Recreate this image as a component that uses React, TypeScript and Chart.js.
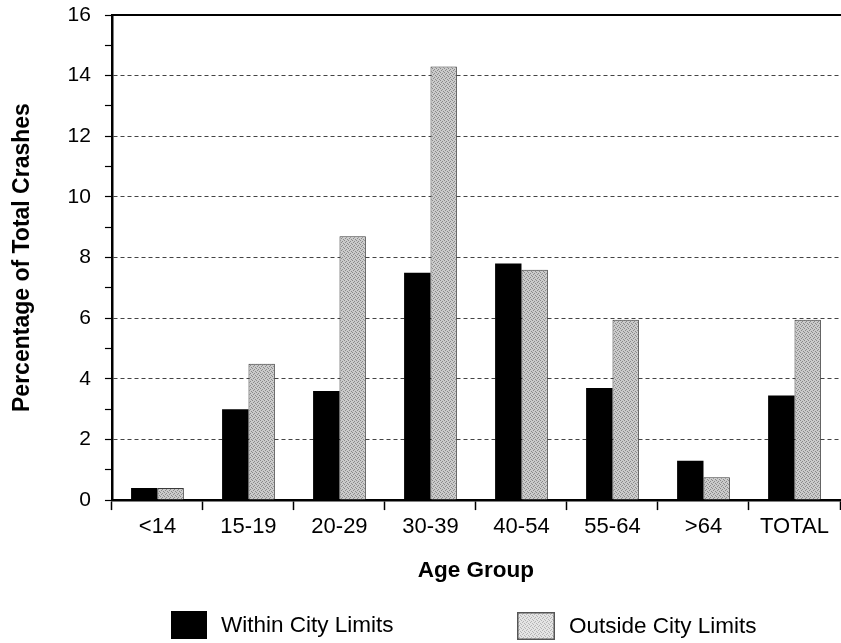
import React, { useEffect, useRef } from "react";
import { Chart, registerables } from "chart.js";

Chart.register(...registerables);

const categories = ["<14", "15-19", "20-29", "30-39", "40-54", "55-64", ">64", "TOTAL"];
const withinCity = [0.4, 3.0, 3.6, 7.5, 7.8, 3.7, 1.3, 3.45];
const outsideCity = [0.4, 4.5, 8.7, 14.3, 7.6, 5.95, 0.75, 5.95];
const seriesNames = ["Within City Limits", "Outside City Limits"];
const yTitle = "Percentage of Total Crashes";
const xTitle = "Age Group";

const FONT = "'Liberation Sans', Arial, Helvetica, sans-serif";

function makePattern(light: boolean): CanvasPattern | string {
  const c = document.createElement("canvas");
  c.width = 4;
  c.height = 4;
  const g = c.getContext("2d");
  if (!g) return "#c0c0c0";
  g.fillStyle = light ? "#e4e4e4" : "#cbcbcb";
  g.fillRect(0, 0, 4, 4);
  g.fillStyle = light ? "#b4b4b4" : "#8a8a8a";
  g.fillRect(0, 0, 1, 1);
  g.fillRect(2, 1, 1, 1);
  g.fillRect(1, 2, 1, 1);
  g.fillRect(3, 3, 1, 1);
  const p = g.createPattern(c, "repeat");
  return p || "#c0c0c0";
}

export default function App() {
  const canvasRef = useRef<HTMLCanvasElement | null>(null);
  const legendBoxRef = useRef<HTMLDivElement | null>(null);

  useEffect(() => {
    if (!canvasRef.current) return;
    const pattern = makePattern(false);
    const chart = new Chart(canvasRef.current, {
      type: "bar",
      data: {
        labels: categories,
        datasets: [
          {
            label: seriesNames[0],
            data: withinCity,
            backgroundColor: "#000000",
            borderColor: "#000000",
            borderWidth: 0,
            categoryPercentage: 0.58,
            barPercentage: 1.0,
          },
          {
            label: seriesNames[1],
            data: outsideCity,
            backgroundColor: pattern as any,
            borderColor: "#3a3a3a",
            borderWidth: 1,
            categoryPercentage: 0.58,
            barPercentage: 1.0,
          },
        ],
      },
      options: {
        responsive: false,
        animation: false,
        layout: { padding: { top: 15, right: 1, left: 0, bottom: 58.5 } },
        plugins: {
          legend: { display: false },
          tooltip: { enabled: false },
        },
        scales: {
          x: {
            type: "category",
            position: "bottom",
            grid: {
              display: true,
              drawOnChartArea: false,
              drawTicks: true,
              offset: true,
              tickLength: 10,
              tickColor: "#000",
              tickWidth: 1.5,
              color: "#000",
            },
            border: { display: true, color: "#000", width: 2.5 },
            ticks: {
              color: "#000",
              padding: 4,
              font: { family: FONT, size: 22 },
              maxRotation: 0,
              autoSkip: false,
            },
            title: {
              display: true,
              text: xTitle,
              color: "#000",
              font: { family: FONT, size: 22.5, weight: "bold" },
              padding: { top: 13, bottom: 0 },
            },
          },
          x2: {
            type: "category",
            position: "top",
            labels: categories,
            grid: { display: false, drawTicks: false },
            ticks: { display: false },
            border: { display: true, color: "#000", width: 2 },
          },
          y: {
            type: "linear",
            min: 0,
            max: 16,
            afterFit: (scale: any) => {
              scale.paddingTop = 0;
              scale.paddingBottom = 0;
            },
            ticks: {
              stepSize: 1,
              color: "#000",
              padding: 14,
              font: { family: FONT, size: 21 },
              callback: (v: any) => (Number(v) % 2 === 0 ? String(v) : ""),
            },
            grid: {
              display: true,
              drawOnChartArea: true,
              drawTicks: true,
              tickLength: 7,
              tickColor: "#000",
              tickWidth: 1.2,
              lineWidth: 1,
              color: (ctx: any) => {
                const v = ctx.tick ? ctx.tick.value : NaN;
                if (v === 0 || v === 16 || v % 2 !== 0) return "rgba(0,0,0,0)";
                return "#444444";
              },
            },
            border: { display: true, color: "#000", width: 2.5, dash: [4, 3] },
            title: {
              display: true,
              text: yTitle,
              color: "#000",
              font: { family: FONT, size: 23, weight: "bold" },
              padding: { top: 9.2, bottom: 16.8 },
            },
          },
        },
      },
    });
    if (legendBoxRef.current) {
      const lp = makePattern(true);
      const c = document.createElement("canvas");
      c.width = 38;
      c.height = 28;
      const g = c.getContext("2d");
      if (g) {
        g.fillStyle = lp as any;
        g.fillRect(0, 0, 38, 28);
        g.strokeStyle = "#555";
        g.lineWidth = 1.5;
        g.strokeRect(0.75, 0.75, 36.5, 26.5);
      }
      legendBoxRef.current.style.backgroundImage = `url(${c.toDataURL()})`;
    }
    return () => chart.destroy();
  }, []);

  const textStyle: React.CSSProperties = {
    position: "absolute",
    height: 28,
    lineHeight: "28px",
    fontFamily: FONT,
    fontSize: 22.5,
    color: "#000",
    whiteSpace: "nowrap",
  };

  return (
    <div style={{ position: "absolute", left: 0, top: 0, width: 841, height: 643, background: "#fff", overflow: "hidden" }}>
      <canvas ref={canvasRef} width={841} height={643} style={{ display: "block", width: 841, height: 643 }} />
      <div style={{ position: "absolute", left: 171, top: 611, width: 36, height: 28, background: "#000" }} />
      <div style={{ ...textStyle, left: 221, top: 611 }}>{seriesNames[0]}</div>
      <div ref={legendBoxRef} style={{ position: "absolute", left: 517, top: 612, width: 38, height: 28 }} />
      <div style={{ ...textStyle, left: 569, top: 612 }}>{seriesNames[1]}</div>
    </div>
  );
}
